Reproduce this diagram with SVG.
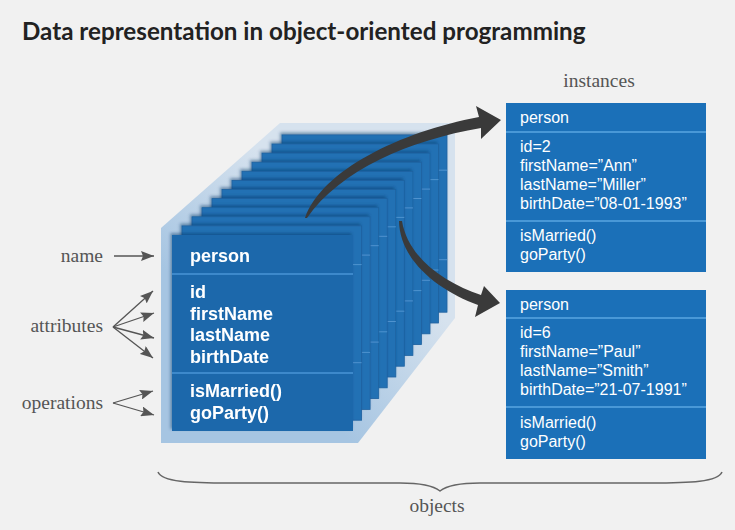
<svg xmlns="http://www.w3.org/2000/svg" width="735" height="530" viewBox="0 0 735 530">
<defs>
<style>
.bg{fill:#f1f1f1}
.title{font-family:Lato,"Liberation Sans",sans-serif;font-weight:bold;font-size:24.2px;fill:#222}
.lbl{font-family:"Liberation Serif",serif;font-size:19.5px;fill:#555}
.bcard{fill:#2371b4;stroke:#1d62a0;stroke-width:0.8}
.bdiv{stroke:#4f93cf;stroke-width:1}
.front{fill:#1c68ab}
.fdiv{stroke:#4a95d6;stroke-width:1.5}
.ft{font-family:"Liberation Sans",Arial,sans-serif;font-weight:bold;font-size:18px;fill:#fff}
.inst{fill:#1b70b8}
.idiv{stroke:#5aa6e2;stroke-width:1.5}
.it{font-family:"Liberation Sans",Arial,sans-serif;font-size:16px;fill:#fff}
.ptr{stroke:#555;stroke-width:1.3;fill:none;marker-end:url(#ah)}
.big{fill:#3a3a3a}
.brace{fill:none;stroke:#666;stroke-width:1.5}
</style>
<marker id="ah" markerUnits="userSpaceOnUse" markerWidth="14" markerHeight="10" refX="13" refY="5" orient="auto">
<path d="M0,0 L13,5 L0,10 L2,5 z" fill="#555"/>
</marker>
<linearGradient id="back" gradientUnits="userSpaceOnUse" x1="161" y1="443" x2="455" y2="123">
<stop offset="0.3" stop-color="#a6c5e2"/>
<stop offset="0.65" stop-color="#d6e2ee"/>
</linearGradient>
<filter id="sh" x="-10%" y="-10%" width="120%" height="120%">
<feDropShadow dx="-1.5" dy="-2" stdDeviation="1.5" flood-color="#0a3660" flood-opacity="0.45"/>
</filter>
</defs>
<rect class="bg" x="0" y="0" width="735" height="530"/>
<text class="title" x="22" y="40">Data representation in object-oriented programming</text>

<g id="objects-stack">
<polygon points="161,228 280,123 455,123 455,318 358,443 161,443" fill="url(#back)"/>
<g filter="url(#sh)"><rect class="bcard" x="282" y="134.9" width="165" height="177.3"/><line class="bdiv" x1="282" y1="170.2" x2="447" y2="170.2"/><line class="bdiv" x1="282" y1="259.7" x2="447" y2="259.7"/></g>
<g filter="url(#sh)"><rect class="bcard" x="272" y="144" width="166.5" height="179"/><line class="bdiv" x1="272" y1="179.6" x2="438.5" y2="179.6"/><line class="bdiv" x1="272" y1="270" x2="438.5" y2="270"/></g>
<g filter="url(#sh)"><rect class="bcard" x="262" y="153.1" width="168" height="180.7"/><line class="bdiv" x1="262" y1="189.1" x2="430" y2="189.1"/><line class="bdiv" x1="262" y1="280.3" x2="430" y2="280.3"/></g>
<g filter="url(#sh)"><rect class="bcard" x="252" y="162.2" width="169.4" height="182.4"/><line class="bdiv" x1="252" y1="198.5" x2="421.4" y2="198.5"/><line class="bdiv" x1="252" y1="290.6" x2="421.4" y2="290.6"/></g>
<g filter="url(#sh)"><rect class="bcard" x="242" y="171.3" width="170.9" height="184.1"/><line class="bdiv" x1="242" y1="207.9" x2="412.9" y2="207.9"/><line class="bdiv" x1="242" y1="300.9" x2="412.9" y2="300.9"/></g>
<g filter="url(#sh)"><rect class="bcard" x="232" y="180.4" width="172.3" height="185.8"/><line class="bdiv" x1="232" y1="217.4" x2="404.3" y2="217.4"/><line class="bdiv" x1="232" y1="311.2" x2="404.3" y2="311.2"/></g>
<g filter="url(#sh)"><rect class="bcard" x="222" y="189.5" width="173.8" height="187.5"/><line class="bdiv" x1="222" y1="226.8" x2="395.8" y2="226.8"/><line class="bdiv" x1="222" y1="321.5" x2="395.8" y2="321.5"/></g>
<g filter="url(#sh)"><rect class="bcard" x="212" y="198.6" width="175.2" height="189.2"/><line class="bdiv" x1="212" y1="236.3" x2="387.2" y2="236.3"/><line class="bdiv" x1="212" y1="331.8" x2="387.2" y2="331.8"/></g>
<g filter="url(#sh)"><rect class="bcard" x="202" y="207.7" width="176.7" height="190.9"/><line class="bdiv" x1="202" y1="245.7" x2="378.7" y2="245.7"/><line class="bdiv" x1="202" y1="342.1" x2="378.7" y2="342.1"/></g>
<g filter="url(#sh)"><rect class="bcard" x="192" y="216.8" width="178.1" height="192.6"/><line class="bdiv" x1="192" y1="255.1" x2="370.1" y2="255.1"/><line class="bdiv" x1="192" y1="352.4" x2="370.1" y2="352.4"/></g>
<g filter="url(#sh)"><rect class="bcard" x="182" y="225.9" width="179.6" height="194.3"/><line class="bdiv" x1="182" y1="264.6" x2="361.6" y2="264.6"/><line class="bdiv" x1="182" y1="362.7" x2="361.6" y2="362.7"/></g>
</g>

<g id="class-person" filter="url(#sh)">
<rect class="front" x="172" y="235" width="181" height="196"/>
<line class="fdiv" x1="172" y1="274" x2="353" y2="274"/>
<line class="fdiv" x1="172" y1="373" x2="353" y2="373"/>
<text class="ft" x="190" y="262">person</text>
<text class="ft" x="190" y="298">id</text>
<text class="ft" x="190" y="319.5">firstName</text>
<text class="ft" x="190" y="341">lastName</text>
<text class="ft" x="190" y="362.5">birthDate</text>
<text class="ft" x="190" y="397">isMarried()</text>
<text class="ft" x="190" y="418.5">goParty()</text>
</g>

<g id="instance-ann">
<rect class="inst" x="506" y="103" width="200" height="169"/>
<line class="idiv" x1="506" y1="132" x2="706" y2="132"/>
<line class="idiv" x1="506" y1="221" x2="706" y2="221"/>
<text class="it" x="520" y="123">person</text>
<text class="it" x="520" y="152">id=2</text>
<text class="it" x="520" y="171">firstName=”Ann”</text>
<text class="it" x="520" y="190">lastName=”Miller”</text>
<text class="it" x="520" y="209">birthDate=”08-01-1993”</text>
<text class="it" x="520" y="241">isMarried()</text>
<text class="it" x="520" y="260">goParty()</text>
</g>

<g id="instance-paul">
<rect class="inst" x="506" y="290" width="200" height="169"/>
<line class="idiv" x1="506" y1="318" x2="706" y2="318"/>
<line class="idiv" x1="506" y1="407" x2="706" y2="407"/>
<text class="it" x="520" y="310">person</text>
<text class="it" x="520" y="338">id=6</text>
<text class="it" x="520" y="357">firstName=”Paul”</text>
<text class="it" x="520" y="376">lastName=”Smith”</text>
<text class="it" x="520" y="395">birthDate=”21-07-1991”</text>
<text class="it" x="520" y="428">isMarried()</text>
<text class="it" x="520" y="447">goParty()</text>
</g>

<g id="labels">
<text class="lbl" x="103" y="262" text-anchor="end">name</text>
<text class="lbl" x="103" y="332" text-anchor="end">attributes</text>
<text class="lbl" x="103" y="409" text-anchor="end">operations</text>
<text class="lbl" x="599" y="87" text-anchor="middle">instances</text>
<text class="lbl" x="437" y="512" text-anchor="middle">objects</text>
<path class="brace" d="M158 472 C 162 482, 190 483, 230 483 L 400 483 C 425 483, 435 487, 440 491 C 445 487, 455 483, 480 483 L 650 483 C 690 483, 718 482, 722 472"/>
</g>

<g id="connectors">
<line class="ptr" x1="114" y1="256" x2="154" y2="256"/>
<line class="ptr" x1="113" y1="327" x2="153" y2="291"/>
<line class="ptr" x1="113" y1="327" x2="154" y2="313"/>
<line class="ptr" x1="113" y1="327" x2="154" y2="338"/>
<line class="ptr" x1="113" y1="327" x2="153" y2="358"/>
<line class="ptr" x1="113" y1="403" x2="153" y2="391"/>
<line class="ptr" x1="113" y1="403" x2="154" y2="415"/>
<path class="big" d="M305 218 C 322 170, 400 132, 479 117 L 476 106 L 501 120 L 481 139 L 481 128 C 410 140, 340 170, 307 218 Z"/>
<path class="big" d="M399 221 C 400 262, 440 291, 478 305 L 475 317 L 500 303 L 484 286 L 481 295 C 445 283, 408 258, 402 221 Z"/>
</g>
</svg>
